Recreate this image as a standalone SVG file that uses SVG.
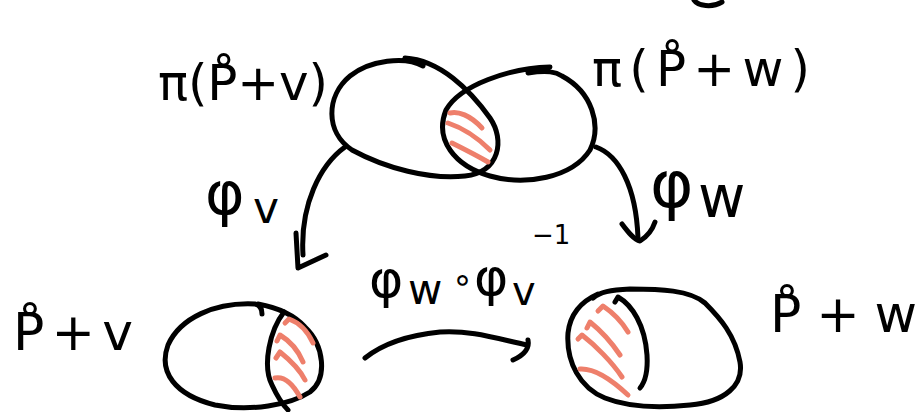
<svg xmlns="http://www.w3.org/2000/svg" width="920" height="412" viewBox="0 0 920 412">
<style>
.ink{fill:none;stroke:#000;stroke-width:5;stroke-linecap:round;stroke-linejoin:round}
.hatch{fill:none;stroke:#EE7F6B;stroke-width:5;stroke-linecap:round;stroke-linejoin:round}
.lbl{font-family:"DejaVu Sans","Liberation Sans",sans-serif;fill:#000}
</style>
<rect width="920" height="412" fill="#fff"/>

<g id="node-pi-v">
  <path class="ink" d="M 423,66 C 405,56 370,60 350,76 C 326,96 325,132 352,150 C 385,168 430,180 465,176 C 500,172 505,140 490,118 C 470,90 440,60 405,58"/>
  <text class="lbl" x="158" y="100" font-size="50" textLength="170" lengthAdjust="spacing">π(P̊+v)</text>
</g>

<g id="node-pi-w">
  <path class="ink" d="M 550,67 C 510,68 460,85 446,110 C 434,140 455,166 490,176 C 525,186 572,178 590,150 C 602,125 592,92 562,76 C 556,72 548,70 528,73"/>
  <text class="lbl" x="592" y="86" font-size="50" textLength="218" lengthAdjust="spacing">π(P̊+w)</text>
</g>

<g id="overlap-hatch">
  <path class="hatch" d="M 450,113 C 458,111 470,115 482,128"/>
  <path class="hatch" d="M 448,123 C 460,127 476,136 490,150"/>
  <path class="hatch" d="M 452,143 C 462,148 476,155 488,162"/>
</g>

<g id="node-p-v">
  <path class="ink" d="M 262,314 C 262,308 260,305 255,304 C 215,302 180,318 168,345 C 158,372 175,395 215,405 C 250,412 290,405 310,392 C 328,378 324,345 305,327 C 295,316 280,308 258,304"/>
  <path class="ink" d="M 284,312 C 270,330 262,365 272,385 C 278,398 283,405 288,410"/>
  <path class="hatch" d="M 285,323 L 289,319 C 300,323 308,332 313,343"/>
  <path class="hatch" d="M 277,341 L 280,335 C 290,341 298,350 303,362"/>
  <path class="hatch" d="M 276,358 L 280,352 C 290,360 300,370 305,380"/>
  <path class="hatch" d="M 275,378 C 285,376 294,386 300,397"/>
  <text class="lbl" x="13" y="350" font-size="52" textLength="120" lengthAdjust="spacing">P̊+v</text>
</g>

<g id="node-p-w">
  <path class="ink" d="M 593,298 C 600,292 610,290 630,289 C 660,289 690,290 705,303 C 720,318 735,335 740,362 C 744,385 725,402 690,405 C 660,408 630,408 605,398 C 580,388 566,362 568,333 C 570,315 580,302 598,294"/>
  <path class="ink" d="M 615,302 L 618,297 C 632,305 645,325 647,355 C 648,372 645,382 640,388"/>
  <path class="hatch" d="M 598,311 L 603,306 C 612,312 622,322 628,332"/>
  <path class="hatch" d="M 587,328 L 590,322 C 600,330 612,343 620,355"/>
  <path class="hatch" d="M 578,339 L 582,335 C 595,345 612,362 622,377"/>
  <path class="hatch" d="M 580,369 C 595,368 612,380 628,395"/>
  <text class="lbl" x="770" y="332" font-size="52" textLength="147" lengthAdjust="spacing">P̊+w</text>
</g>

<g id="connectors">
  <g id="arrow-phi-v">
    <path class="ink" d="M 345,147 C 320,165 300,205 303,255"/>
    <path class="ink" d="M 296,233 L 298,268 L 326,255"/>
    <text class="lbl" x="205" y="214" font-size="60">φ<tspan font-size="44" x="253" y="223">v</tspan></text>
  </g>
  <g id="arrow-phi-w">
    <path class="ink" d="M 596,147 C 618,155 636,185 638,238"/>
    <path class="ink" d="M 622,224 C 628,232 634,240 640,241 C 648,236 653,228 655,222"/>
    <text class="lbl" x="650" y="207" font-size="66">φ<tspan font-size="58" x="698" y="217">w</tspan></text>
  </g>
  <g id="arrow-transition">
    <path class="ink" d="M 365,358 C 385,342 410,335 440,332 C 470,330 495,338 527,345"/>
    <path class="ink" d="M 528,340 C 530,350 522,356 513,360"/>
    <text class="lbl" x="369" y="297" font-size="52">φ<tspan font-size="42" x="408" y="304">w</tspan><tspan font-size="34" x="452" y="291">∘</tspan><tspan font-size="52" x="474" y="295">φ</tspan><tspan font-size="40" x="512" y="305">v</tspan><tspan font-size="26" x="532" y="244">−1</tspan></text>
  </g>
  <path class="ink" d="M 694,0 C 698,6 712,8 722,2"/>
</g>
</svg>
